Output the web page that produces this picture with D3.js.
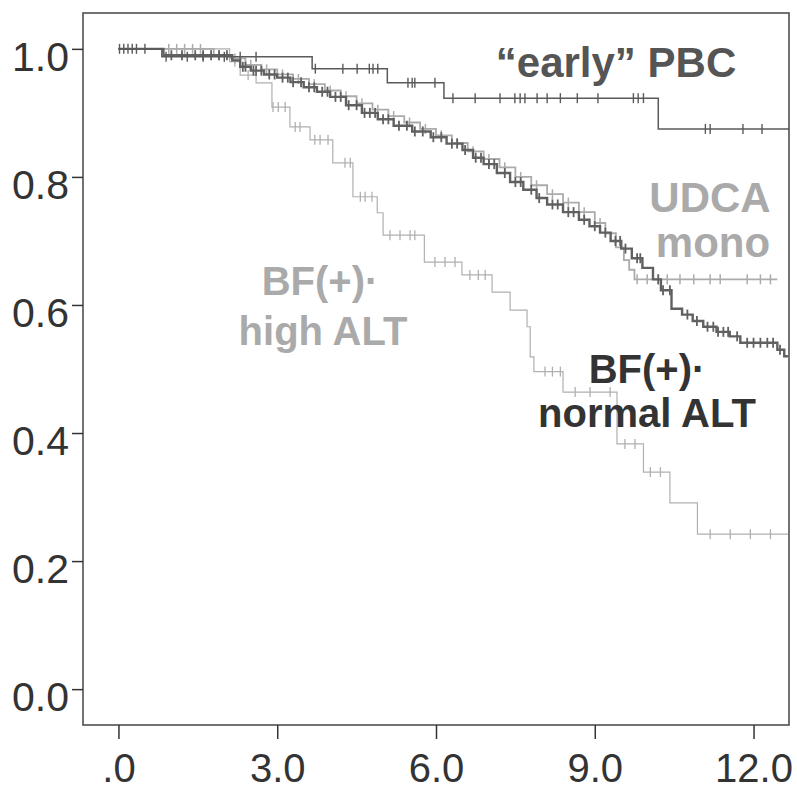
<!DOCTYPE html>
<html>
<head>
<meta charset="utf-8">
<script src="https://cdn.jsdelivr.net/npm/d3@7"></script>
<style>
  body { margin: 0; background: #fff; }
  text { font-family: "Liberation Sans", Arial, sans-serif; }
</style>
</head>
<body>
<svg id="chart" width="797" height="792"></svg>
<script>
// tick labels
const xTicks = [0, 3, 6, 9, 12];
const yTicks = [0, 0.2, 0.4, 0.6, 0.8, 1.0];

// Kaplan-Meier steps [time, survival]
const earlyPbcSteps = [[0, 1], [0.82, 0.9875], [3.66, 0.969], [5.08, 0.947], [6.15, 0.923], [10.2, 0.875]];
const earlyPbcCensored = [0.02, 0.1, 0.18, 0.26, 0.34, 0.5, 0.9, 1.3, 1.6, 2.0, 2.3, 2.6,
  3.72, 4.24, 4.51, 4.74, 4.81, 4.9, 5.47, 5.55, 5.6, 5.98,
  6.32, 6.74, 7.21, 7.49, 7.59, 7.68, 7.91, 8.1, 8.35, 8.67, 9.06, 9.73, 9.82, 9.92,
  11.09, 11.18, 11.8, 12.16];
const earlyPbcEnd = 12.67;

const udcaSteps = [[0, 1], [1.8, 0.99], [2.1, 0.985], [2.4, 0.975], [2.7, 0.968], [3.0, 0.96], [3.3, 0.953],
  [3.6, 0.945], [3.9, 0.935], [4.2, 0.926], [4.5, 0.915], [4.8, 0.905], [5.1, 0.895], [5.4, 0.885],
  [5.7, 0.875], [6.0, 0.865], [6.3, 0.853], [6.6, 0.84], [6.9, 0.828], [7.2, 0.815], [7.5, 0.8],
  [7.8, 0.787], [8.1, 0.773], [8.4, 0.76], [8.7, 0.745], [9.0, 0.728], [9.2, 0.712], [9.4, 0.69],
  [9.55, 0.67], [9.65, 0.655], [9.75, 0.64]];
const udcaCensored = [0.95, 1.1, 1.25, 1.4, 1.55, 1.9, 2.2, 2.5, 2.8, 3.1, 3.4, 3.7, 4.0, 4.3, 4.6, 4.9,
  5.2, 5.5, 5.8, 6.1, 6.4, 6.7, 7.0, 7.3, 7.6, 7.9, 8.2, 8.5, 8.8, 9.1,
  9.8, 9.99, 10.2, 10.37, 10.61, 10.87, 11.18, 11.37, 11.88, 12.13, 12.32];
const udcaEnd = 12.45;

const normalAltSteps = [[0, 1], [0.85, 0.99], [2.15, 0.982], [2.3, 0.972], [2.5, 0.966], [2.75, 0.96],
  [3.0, 0.955], [3.25, 0.948], [3.5, 0.94], [3.75, 0.933], [4.0, 0.925], [4.3, 0.912], [4.6, 0.9],
  [4.9, 0.89], [5.2, 0.88], [5.55, 0.871], [5.9, 0.862], [6.2, 0.852], [6.5, 0.842], [6.7, 0.83],
  [6.9, 0.82], [7.15, 0.806], [7.4, 0.792], [7.65, 0.78], [7.9, 0.767], [8.1, 0.757], [8.4, 0.745],
  [8.7, 0.733], [8.9, 0.723], [9.1, 0.713], [9.3, 0.7], [9.5, 0.688], [9.7, 0.673], [9.9, 0.658],
  [10.1, 0.64], [10.25, 0.623], [10.45, 0.594], [10.65, 0.585], [10.85, 0.575], [11.05, 0.566],
  [11.3, 0.558], [11.55, 0.551], [11.75, 0.541], [12.45, 0.53], [12.58, 0.52]];
const normalAltCensored = [1.0, 1.2, 1.45, 1.6, 1.75, 1.9, 2.05, 2.35, 2.4, 2.55, 2.6, 2.7, 2.85, 2.95,
  3.1, 3.2, 3.3, 3.45, 3.6, 3.7, 3.85, 3.95, 4.1, 4.2, 4.35, 4.5, 4.65, 4.75, 4.85, 5.0, 5.1, 5.3,
  5.45, 5.6, 5.75, 5.95, 6.1, 6.3, 6.4, 6.55, 6.75, 6.85, 7.0, 7.1, 7.3, 7.5, 7.6, 7.8, 7.95,
  8.2, 8.3, 8.5, 8.6, 8.8, 9.0, 9.2, 9.39, 9.48, 9.58, 9.8, 9.86, 10.2, 10.29, 10.42, 10.75, 10.93,
  11.13, 11.24, 11.33, 11.43, 11.52, 11.69, 11.88, 12.0, 12.13, 12.26, 12.37, 12.5];
const normalAltEnd = 12.65;

const highAltSteps = [[0, 1], [2.1, 0.98], [2.3, 0.959], [2.6, 0.947], [2.9, 0.909], [3.24, 0.878],
  [3.62, 0.858], [4.05, 0.822], [4.43, 0.769], [4.89, 0.744], [5.0, 0.709], [5.78, 0.667],
  [6.49, 0.647], [7.06, 0.62], [7.4, 0.592], [7.72, 0.566], [7.78, 0.519], [7.85, 0.496],
  [8.4, 0.464], [9.42, 0.383], [9.92, 0.339], [10.42, 0.291], [10.94, 0.242]];
const highAltCensored = [2.2, 2.45, 2.92, 3.02, 3.15, 3.34, 3.43, 3.71, 3.81, 3.96, 4.28, 4.38, 4.57,
  4.66, 4.79, 5.13, 5.32, 5.51, 5.6, 5.98, 6.17, 6.36, 6.64, 6.8, 6.93, 8.06, 8.2, 8.35, 8.63,
  8.91, 9.29, 9.57, 9.76, 10.05, 10.24, 11.18, 11.56, 11.94, 12.32];
const highAltEnd = 12.65;

const svg = d3.select("#chart");

const x = d3.scaleLinear().domain([-0.67, 12.67]).range([83, 789]);
const y = d3.scaleLinear().domain([-0.056, 1.056]).range([725, 13]);

// survival value at a given time
function survAt(steps, t) {
  let s = steps[0][1];
  for (const st of steps) { if (st[0] <= t) s = st[1]; }
  return s;
}

const line = d3.line().x(d => x(d[0])).y(d => y(d[1])).curve(d3.curveStepAfter);

function drawCurve(steps, censored, end, color, width, markWidth) {
  const pts = steps.concat([[end, steps[steps.length - 1][1]]]);
  svg.append("path")
    .attr("d", line(pts))
    .attr("fill", "none")
    .attr("stroke", color)
    .attr("stroke-width", width);
  svg.append("g").selectAll("line")
    .data(censored)
    .join("line")
    .attr("x1", d => x(d)).attr("x2", d => x(d))
    .attr("y1", d => y(survAt(steps, d)) - 5)
    .attr("y2", d => y(survAt(steps, d)) + 5)
    .attr("stroke", color)
    .attr("stroke-width", markWidth);
}

drawCurve(highAltSteps, highAltCensored, highAltEnd, "#b0b0b0", 1.2, 1.3);
drawCurve(udcaSteps, udcaCensored, udcaEnd, "#ababab", 1.8, 1.5);
drawCurve(normalAltSteps, normalAltCensored, normalAltEnd, "#606060", 2.4, 1.8);
drawCurve(earlyPbcSteps, earlyPbcCensored, earlyPbcEnd, "#5a5a5a", 1.5, 1.4);

// frame
svg.append("rect")
  .attr("x", 83).attr("y", 13).attr("width", 706).attr("height", 712)
  .attr("fill", "none").attr("stroke", "#444").attr("stroke-width", 1.5);

// axes
const yAxis = svg.append("g")
  .attr("transform", "translate(83,0)")
  .call(d3.axisLeft(y).tickValues(yTicks).tickSize(11).tickPadding(3).tickFormat(d3.format(".1f")));
yAxis.select(".domain").remove();
yAxis.selectAll("line").attr("stroke", "#333").attr("stroke-width", 1.5);
yAxis.selectAll("text").attr("font-size", 41).attr("fill", "#333").attr("dy", "0.52em")
  .style("font-family", "'Liberation Sans', Arial, sans-serif");

const xAxis = svg.append("g")
  .attr("transform", "translate(0,725)")
  .call(d3.axisBottom(x).tickValues(xTicks).tickSize(14).tickPadding(15)
    .tickFormat(d => d === 0 ? ".0" : d.toFixed(1)));
xAxis.select(".domain").remove();
xAxis.selectAll("line").attr("stroke", "#333").attr("stroke-width", 1.5);
xAxis.selectAll("text").attr("font-size", 40).attr("fill", "#333")
  .style("font-family", "'Liberation Sans', Arial, sans-serif");

// curve labels
function label(txt, cx, by, size, color) {
  svg.append("text")
    .attr("x", cx).attr("y", by)
    .attr("text-anchor", "middle")
    .attr("font-size", size)
    .attr("font-weight", "bold")
    .attr("fill", color)
    .text(txt);
}
label("\u201Cearly\u201D PBC", 616, 77, 42, "#555");
label("UDCA", 710, 212, 42, "#aaa");
label("mono", 713, 257, 42, "#aaa");
label("BF(+)\u00B7", 320, 295, 40, "#aaa");
label("high ALT", 323, 345, 40, "#aaa");
label("BF(+)\u00B7", 647, 383, 40, "#333");
label("normal ALT", 647, 427, 40, "#333");
</script>
</body>
</html>
